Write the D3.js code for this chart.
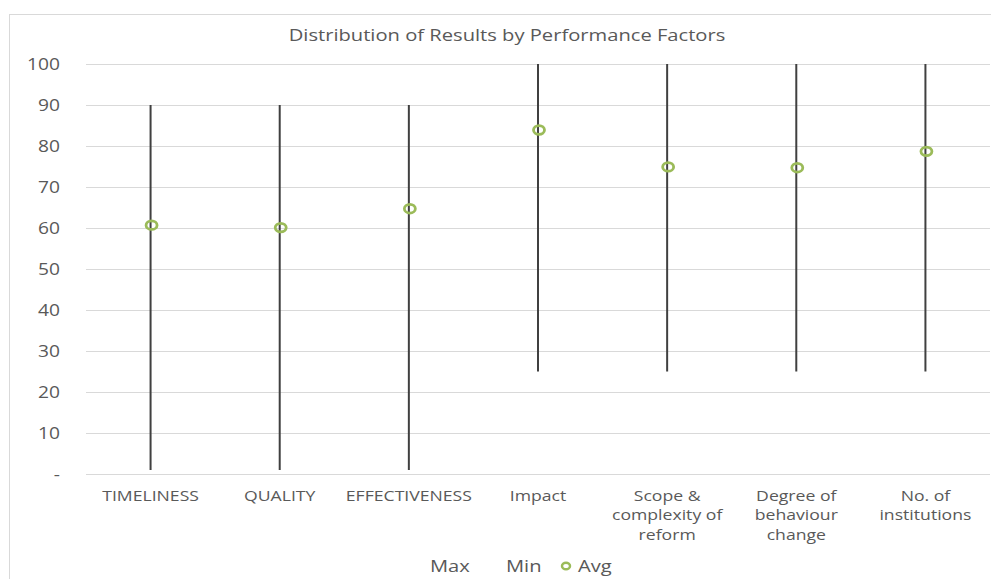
<!DOCTYPE html>
<html>
<head>
<meta charset="utf-8">
<script src="https://cdn.jsdelivr.net/npm/d3@7"></script>
<style>
  html, body { margin: 0; padding: 0; background: #fff; }
  svg { display: block; }
  text { font-family: "Open Sans", "Noto Sans", sans-serif; fill: #595959; }
</style>
</head>
<body>
<svg id="chart" width="991" height="579"></svg>
<script>
// Performance factors and their high / low / average results
const categories = [
  ["TIMELINESS"],
  ["QUALITY"],
  ["EFFECTIVENESS"],
  ["Impact"],
  ["Scope &", "complexity of", "reform"],
  ["Degree of", "behaviour", "change"],
  ["No. of", "institutions"]
];
const maxValues = [90, 90, 90, 100, 100, 100, 100];
const minValues = [1, 1, 1, 25, 25, 25, 25];
const avgValues = [60.7, 60.1, 64.7, 83.9, 74.9, 74.7, 78.7];
const yTicks = [0, 10, 20, 30, 40, 50, 60, 70, 80, 90, 100];
const titleText = "Distribution of Results by Performance Factors";

const svg = d3.select("#chart");
const W = 991, H = 579;
const margin = { left: 86, right: 1, top: 64, bottom: 105 };
const SX = 1.26; // horizontal stretch of the chart's typeface

// text placed at (x, y) and widened horizontally
function wideText(g, x, y, size, anchor) {
  return g.append("text")
    .attr("transform", `translate(${x},${y}) scale(${SX},1)`)
    .attr("font-size", size)
    .attr("text-anchor", anchor || "start");
}

// chart frame
svg.append("rect")
  .attr("x", 9.5).attr("y", 14.5)
  .attr("width", W + 20).attr("height", H + 20)
  .attr("fill", "#fff").attr("stroke", "#d9d9d9");

const keys = categories.map((c, i) => i);
const x = d3.scaleBand().domain(keys).range([margin.left, W - margin.right]);
const y = d3.scaleLinear().domain([0, 100]).range([H - margin.bottom, margin.top]);
const cx = i => x(i) + x.bandwidth() / 2;

// horizontal gridlines
svg.append("g").selectAll("line").data(yTicks).join("line")
  .attr("x1", margin.left).attr("x2", W - margin.right)
  .attr("y1", d => Math.round(y(d)) + 0.5).attr("y2", d => Math.round(y(d)) + 0.5)
  .attr("stroke", "#d9d9d9").attr("stroke-width", 1);

// y-axis tick labels
const yAxis = d3.axisLeft(y).tickValues(yTicks).tickSize(0).tickPadding(0)
  .tickFormat(d => d === 0 ? "-" : d);
const yg = svg.append("g").attr("transform", `translate(${margin.left - 26},0)`).call(yAxis);
yg.select(".domain").remove();
yg.selectAll("text")
  .attr("x", 0)
  .attr("transform", `scale(1.2,1)`)
  .attr("font-size", 16).attr("fill", "#595959")
  .style("font-family", "'Open Sans', sans-serif");

// category labels
const xg = svg.append("g");
categories.forEach((lines, i) => {
  const t = wideText(xg, cx(i), 501, 14, "middle");
  lines.forEach((ln, j) => {
    t.append("tspan").attr("x", 0).attr("dy", j === 0 ? 0 : 19.5).text(ln);
  });
});

// high-low lines
svg.append("g").selectAll("line").data(keys).join("line")
  .attr("x1", cx).attr("x2", cx)
  .attr("y1", i => y(maxValues[i])).attr("y2", i => y(minValues[i]))
  .attr("stroke", "#404040").attr("stroke-width", 2);

// average markers
svg.append("g").selectAll("ellipse").data(keys).join("ellipse")
  .attr("cx", i => cx(i) + 1)
  .attr("cy", i => y(avgValues[i]))
  .attr("rx", 5.5).attr("ry", 4.3)
  .attr("fill", "none")
  .attr("stroke", "#9bbb59").attr("stroke-width", 2.8);

// title
wideText(svg, 507, 41, 16, "middle").text(titleText);

// legend
const lg = svg.append("g");
wideText(lg, 430, 572, 16).text("Max");
wideText(lg, 506, 572, 16).text("Min");
lg.append("ellipse").attr("cx", 566).attr("cy", 566).attr("rx", 4).attr("ry", 3.3)
  .attr("fill", "none").attr("stroke", "#9bbb59").attr("stroke-width", 2.5);
wideText(lg, 578, 572, 16).text("Avg");
</script>
</body>
</html>
